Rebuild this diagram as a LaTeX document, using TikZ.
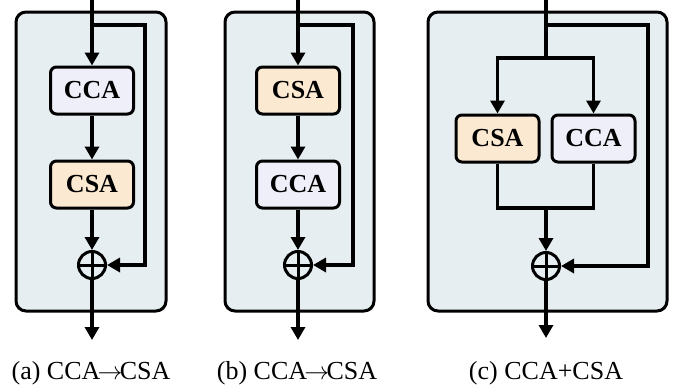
\documentclass[tikz,border=0pt]{standalone}
\usepackage{fontspec}
\setmainfont{Liberation Serif}
\usetikzlibrary{arrows.meta, positioning, calc}
\definecolor{panelcolor}{RGB}{230,238,241}
\definecolor{ccacolor}{RGB}{239,239,250}
\definecolor{csacolor}{RGB}{252,233,209}
\newcommand{\thento}{\ensuremath{\mkern-2mu\rightarrow\mkern-2mu}}

\begin{document}
\begin{tikzpicture}[
    x=1pt, y=1pt,
    panel/.style={rectangle, draw, line width=3pt, fill=panelcolor, rounded corners=10pt, minimum height=299pt},
    block/.style={rectangle, draw, line width=3pt, rounded corners=6pt, minimum width=83pt, minimum height=47pt, font=\fontsize{26}{29}\selectfont\bfseries},
    cca/.style={block, fill=ccacolor},
    csa/.style={block, fill=csacolor},
    sum/.style={circle, draw, line width=3pt, minimum size=27pt, inner sep=0pt,
        path picture={\draw[line width=3pt] (path picture bounding box.north) -- (path picture bounding box.south)
            (path picture bounding box.west) -- (path picture bounding box.east);}},
    caption/.style={font=\fontsize{26}{30}\selectfont},
    line/.style={line width=3.3pt},
    arrow/.style={line, -{Triangle[length=13pt, width=14pt]}}
]
    \useasboundingbox (0,0) rectangle (683,-391);

    % (a) CCA then CSA
    \node[panel, minimum width=150pt] (panelA) at (91,-161.5) {};
    \node[cca] (ccaA) at (92,-90.5) {CCA};
    \node[csa] (csaA) at (92,-184.5) {CSA};
    \node[sum] (sumA) at (92,-265) {};
    \coordinate (topA) at (92,0);
    \coordinate (brA) at (92,-25);
    \coordinate (skipA) at (145,-25);
    \coordinate (outA) at (92,-340);
    \draw[arrow] (topA) -- (ccaA.north);
    \draw[arrow] (ccaA.south) -- (csaA.north);
    \draw[arrow] (csaA.south) -- (sumA.north);
    \draw[arrow] (brA) -- (skipA) |- (sumA.east);
    \draw[arrow] (sumA.south) -- (outA);
    \node[caption] (capA) at (91,-373) {(a) CCA\thento CSA};

    % (b) CSA then CCA
    \node[panel, minimum width=149pt] (panelB) at (299.5,-161.5) {};
    \node[csa] (csaB) at (298,-90.5) {CSA};
    \node[cca] (ccaB) at (298,-184.5) {CCA};
    \node[sum] (sumB) at (298,-265) {};
    \coordinate (topB) at (298,0);
    \coordinate (brB) at (298,-25);
    \coordinate (skipB) at (353,-25);
    \coordinate (outB) at (298,-340);
    \draw[arrow] (topB) -- (csaB.north);
    \draw[arrow] (csaB.south) -- (ccaB.north);
    \draw[arrow] (ccaB.south) -- (sumB.north);
    \draw[arrow] (brB) -- (skipB) |- (sumB.east);
    \draw[arrow] (sumB.south) -- (outB);
    \node[caption] (capB) at (297,-373) {(b) CCA\thento CSA};

    % (c) CSA and CCA in parallel
    \node[panel, minimum width=239pt] (panelC) at (547.5,-161.5) {};
    \node[csa] (csaC) at (497.5,-138.5) {CSA};
    \node[cca] (ccaC) at (593.5,-138.5) {CCA};
    \node[sum] (sumC) at (546,-266) {};
    \coordinate (topC) at (546,0);
    \coordinate (brC) at (546,-25);
    \coordinate (skipC) at (648,-25);
    \coordinate (splitC) at (546,-58);
    \coordinate (mergeC) at (546,-208);
    \coordinate (outC) at (546,-338);
    \draw[line] (topC) -- (splitC);
    \draw[arrow] (splitC) -| (csaC.north);
    \draw[arrow] (splitC) -| (ccaC.north);
    \draw[line] (csaC.south) |- (mergeC);
    \draw[line] (ccaC.south) |- (mergeC);
    \draw[arrow] (mergeC) -- (sumC.north);
    \draw[arrow] (brC) -- (skipC) |- (sumC.east);
    \draw[arrow] (sumC.south) -- (outC);
    \node[caption] (capC) at (546,-373) {(c) CCA+CSA};
\end{tikzpicture}
\end{document}
